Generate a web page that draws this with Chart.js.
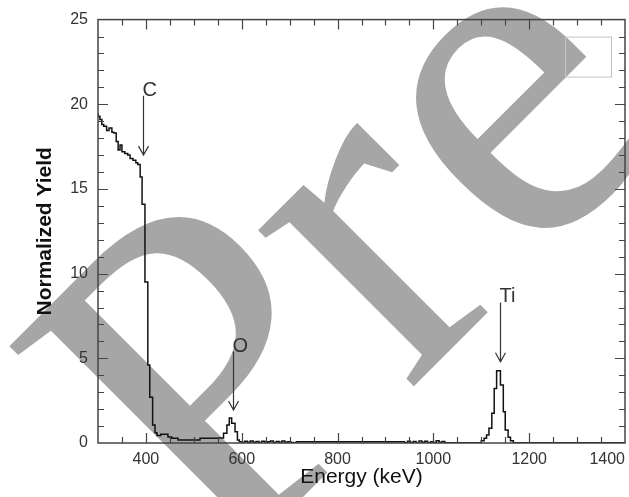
<!DOCTYPE html>
<html>
<head>
<meta charset="utf-8">
<script src="https://cdn.jsdelivr.net/npm/chart.js@4.4.1/dist/chart.umd.min.js"></script>
<style>
  body { margin: 0; background: #fff; }
  canvas { display: block; }
</style>
</head>
<body>
<canvas id="spectrum" width="629" height="497"></canvas>
<script>
// step edges of the spectrum (keV) and the yield held from each edge on
const energy = [300, 304, 308, 312, 318, 323, 329, 333, 338, 342,
  346, 350, 356, 362, 367, 373, 379, 383, 388, 392,
  398, 404, 408, 414, 419, 423, 431, 446, 454, 467,
  513, 551, 562, 569, 574, 579, 586, 591, 595, 601,
  606, 612, 618, 624, 630, 636, 642, 648, 654, 660,
  666, 672, 678, 684, 690, 696, 702, 708, 714, 940,
  946, 952, 958, 964, 970, 976, 982, 988, 994, 1000,
  1006, 1012, 1018, 1024, 1030, 1100, 1106, 1111, 1116, 1122,
  1127, 1132, 1140, 1146, 1150, 1156, 1161, 1167, 1174, 1400];
const yieldVals = [19.5, 19.3, 19.1, 18.8, 18.7, 18.45, 18.6, 18.35, 18.3, 17.8,
  17.3, 17.6, 17.2, 17.1, 17.0, 16.8, 16.7, 16.55, 16.45, 15.7,
  14.1, 9.5, 4.6, 2.7, 1.06, 0.6, 0.45, 0.52, 0.36, 0.28,
  0.18, 0.28, 0.3, 0.57, 1.06, 1.47, 1.16, 0.67, 0.18, 0.08,
  0.03, 0.1, 0.04, 0.12, 0.05, 0.09, 0.03, 0.11, 0.04, 0.08,
  0.12, 0.03, 0.09, 0.05, 0.12, 0.04, 0.07, 0.03, 0.01, 0.07,
  0.02, 0.11, 0.03, 0.09, 0.02, 0.12, 0.04, 0.1, 0.02, 0.08,
  0.03, 0.13, 0.04, 0.09, 0.01, 0.02, 0.14, 0.28, 0.47, 0.87,
  1.75, 3.22, 4.27, 3.42, 1.85, 0.77, 0.34, 0.14, 0.02, 0.02];

// element markers: label, energy of arrow, arrow start and tip (yield units)
const peakLabels = ['C', 'O', 'Ti'];
const peakEnergy = [394.6, 581, 1140];
const arrowTop = [20.5, 5.4, 8.3];
const arrowTip = [17.0, 1.95, 4.8];

const xMajor = 200, yMajor = 5;

const FONT = "'Liberation Sans', Arial, sans-serif";
const ink = '#333';

const framePlugin = {
  id: 'frame',
  beforeDraw(chart) {
    const c = chart.ctx;
    c.save();
    c.fillStyle = '#fff';
    c.fillRect(0, 0, chart.width, chart.height);
    // grey diagonal watermark behind the plot
    c.translate(400, 400);
    c.rotate(-Math.PI / 4);
    c.fillStyle = '#a6a6a6';
    c.font = "480px 'Liberation Serif', serif";
    c.textBaseline = 'alphabetic';
    c.fillText('P', -252, 0);
    c.fillText('r', 10, 0);
    c.fillText('eview', 178, 0);
    c.restore();
  },
  afterDraw(chart) {
    const c = chart.ctx;
    const a = chart.chartArea;
    const xs = chart.scales.x, ys = chart.scales.y;
    c.save();
    c.strokeStyle = '#444';
    c.lineWidth = 1.5;
    c.strokeRect(a.left, a.top, a.right - a.left, a.bottom - a.top);

    c.lineWidth = 1.2;
    c.beginPath();
    xs.ticks.forEach(t => {
      const px = Math.round(xs.getPixelForValue(t.value)) + 0.5;
      if (px <= a.left + 1 || px >= a.right - 1) return;
      const len = t.value % xMajor === 0 ? 10 : 6;
      c.moveTo(px, a.bottom); c.lineTo(px, a.bottom - len);
      c.moveTo(px, a.top); c.lineTo(px, a.top + len);
    });
    ys.ticks.forEach(t => {
      const py = Math.round(ys.getPixelForValue(t.value)) + 0.5;
      if (py <= a.top + 1 || py >= a.bottom - 1) return;
      const len = t.value % yMajor === 0 ? 10 : 6;
      c.moveTo(a.left, py); c.lineTo(a.left + len, py);
      c.moveTo(a.right, py); c.lineTo(a.right - len, py);
    });
    c.stroke();

    // empty legend box
    c.strokeStyle = '#c4c4c4';
    c.lineWidth = 1;
    c.strokeRect(a.right - 59.5, a.top + 17.5, 46, 40);

    // element arrows
    c.strokeStyle = ink;
    c.fillStyle = ink;
    c.lineWidth = 1.2;
    c.font = '20px ' + FONT;
    c.textAlign = 'left';
    c.textBaseline = 'alphabetic';
    peakLabels.forEach((lab, i) => {
      const px = Math.round(xs.getPixelForValue(peakEnergy[i])) + 0.5;
      const y0 = ys.getPixelForValue(arrowTop[i]);
      const y1 = ys.getPixelForValue(arrowTip[i]);
      c.beginPath();
      c.moveTo(px, y0); c.lineTo(px, y1);
      c.moveTo(px - 5, y1 - 9); c.lineTo(px, y1); c.lineTo(px + 5, y1 - 9);
      c.stroke();
      c.fillText(lab, px - 1, y0);
    });
    c.restore();
  }
};

new Chart(document.getElementById('spectrum'), {
  type: 'line',
  data: {
    datasets: [{
      data: energy.map((e, i) => ({ x: e, y: yieldVals[i] })),
      stepped: 'after',
      borderColor: '#111',
      borderWidth: 1.5,
      pointRadius: 0,
      fill: false
    }]
  },
  options: {
    responsive: false,
    devicePixelRatio: 1,
    animation: false,
    layout: { padding: { top: 19, right: 4, bottom: 0, left: 0 } },
    plugins: { legend: { display: false }, tooltip: { enabled: false } },
    scales: {
      x: {
        type: 'linear',
        min: 300,
        max: 1400,
        grid: { display: false, drawTicks: false },
        border: { display: false },
        ticks: {
          stepSize: 50,
          autoSkip: false,
          maxRotation: 0,
          align: 'inner',
          padding: 7,
          color: ink,
          font: { family: FONT, size: 16 },
          callback: v => (v % xMajor === 0 ? String(v) : '')
        },
        title: {
          display: true,
          text: 'Energy (keV)',
          color: '#111',
          font: { family: FONT, size: 21 },
          padding: { top: 7, bottom: 7 }
        },
        afterFit: s => { s.height = 54; s.paddingRight = 0; s.paddingLeft = 0; }
      },
      y: {
        min: 0,
        max: 25,
        grid: { display: false, drawTicks: false },
        border: { display: false },
        ticks: {
          stepSize: 1,
          autoSkip: false,
          padding: 10,
          color: ink,
          font: { family: FONT, size: 16 },
          callback: v => (v % yMajor === 0 ? String(v) : '')
        },
        title: {
          display: true,
          text: 'Normalized Yield',
          color: '#111',
          font: { family: FONT, size: 21, weight: 'bold' },
          padding: { top: 33, bottom: 33 }
        },
        afterFit: s => { s.width = 98; }
      }
    }
  },
  plugins: [framePlugin]
});
</script>
</body>
</html>
